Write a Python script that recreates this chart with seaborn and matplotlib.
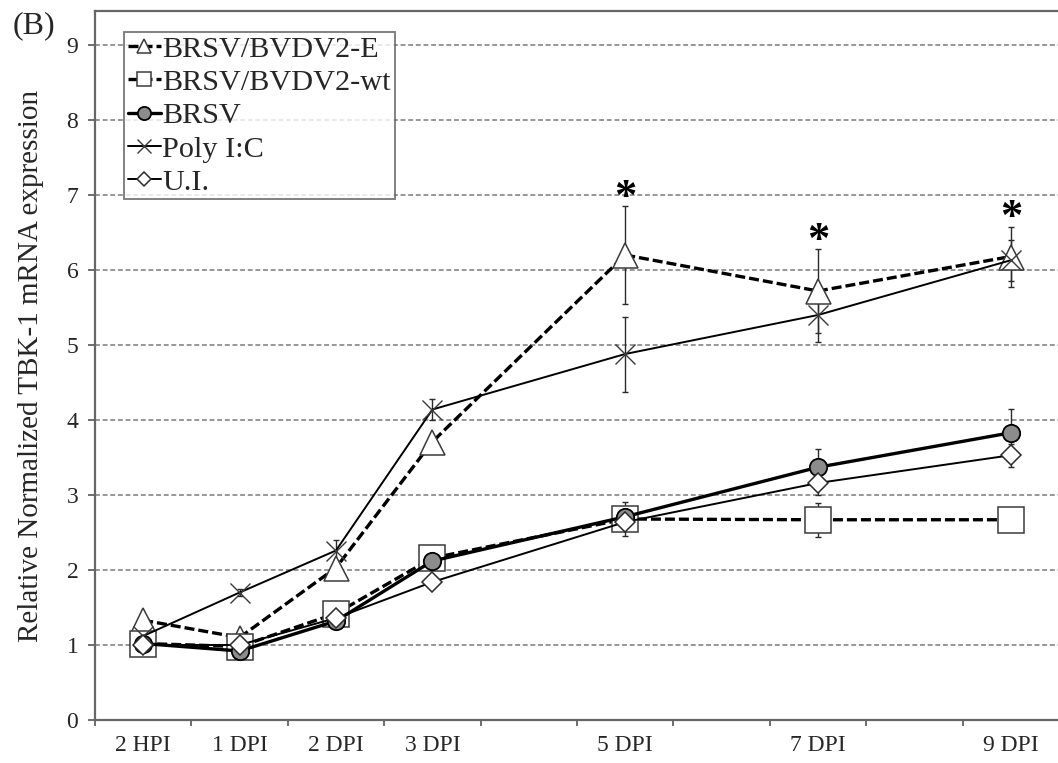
import numpy as np
import matplotlib
matplotlib.use("Agg")
import matplotlib.pyplot as plt
import seaborn as sns

# Sampling times and their slots on the category axis (4, 6 and 8 DPI are empty slots)
time_labels = ["2 HPI", "1 DPI", "2 DPI", "3 DPI", "5 DPI", "7 DPI", "9 DPI"]
time_slots = [0, 1, 2, 3, 5, 7, 9]

# Relative normalized TBK-1 mRNA expression (mean) and error bar half-widths
brsv_bvdv2_e = [1.33, 1.10, 2.03, 3.71, 6.20, 5.72, 6.18]
brsv_bvdv2_e_err = [0, 0, 0, 0, 0.65, 0.56, 0.40]
brsv_bvdv2_wt = [1.02, 0.98, 1.42, 2.16, 2.68, 2.67, 2.67]
brsv_bvdv2_wt_err = [0, 0, 0, 0, 0.23, 0.23, 0.03]
brsv = [1.02, 0.92, 1.32, 2.12, 2.71, 3.37, 3.83]
brsv_err = [0, 0, 0, 0, 0, 0.25, 0.32]
poly_ic = [1.12, 1.70, 2.26, 4.14, 4.88, 5.40, 6.13]
poly_ic_err = [0, 0.05, 0.14, 0.14, 0.50, 0.36, 0.27]
ui = [1.00, 1.00, 1.36, 1.84, 2.64, 3.16, 3.53]
ui_err = [0, 0, 0, 0, 0, 0.16, 0.15]

series_names = ["BRSV/BVDV2-E", "BRSV/BVDV2-wt", "BRSV", "Poly I:C", "U.I."]
series_values = [brsv_bvdv2_e, brsv_bvdv2_wt, brsv, poly_ic, ui]
series_errors = [brsv_bvdv2_e_err, brsv_bvdv2_wt_err, brsv_err, poly_ic_err, ui_err]

# Time points where BRSV/BVDV2-E differs significantly
significant_times = ["5 DPI", "7 DPI", "9 DPI"]

y_ticks = list(range(0, 10))

styles = [
    dict(linestyle=(0, (3, 1.2)), lw=2.4, marker="^", ms=18, mfc="white", mec="#3a3a3a", mew=1.1),
    dict(linestyle=(0, (3, 1.2)), lw=2.4, marker="s", ms=19, mfc="white", mec="#3a3a3a", mew=1.1),
    dict(linestyle="-", lw=2.4, marker="o", ms=12.5, mfc="#8c8c8c", mec="black", mew=1.3),
    dict(linestyle="-", lw=1.4, marker="x", ms=15, mfc="none", mec="#3a3a3a", mew=1.0),
    dict(linestyle="-", lw=1.4, marker="D", ms=10, mfc="white", mec="#2a2a2a", mew=1.1),
]
legend_ms = [10.5, 10.5, 9.5, 10.5, 7.5]

sns.set_theme(style="white")
plt.rcParams["font.family"] = ["Liberation Serif", "DejaVu Serif"]

fig = plt.figure(figsize=(10.58, 7.63), dpi=100)
ax = fig.add_axes([95 / 1058, 43 / 763, 964 / 1058, 709 / 763])

handles = []
for i, (name, vals, errs, st) in enumerate(zip(series_names, series_values, series_errors, styles)):
    xs = np.array(time_slots, dtype=float)
    v = np.array(vals)
    e = np.array(errs)
    m = e > 0
    ax.errorbar(xs[m], v[m], yerr=e[m], fmt="none", ecolor="#2a2a2a",
                elinewidth=1.0, capsize=2.2, capthick=1.0, zorder=2 + i * 0.1)
    sns.lineplot(x=xs, y=v, ax=ax, sort=False, errorbar=None, color="black",
                 linestyle=st["linestyle"], linewidth=st["lw"], marker=st["marker"],
                 markersize=st["ms"], markerfacecolor=st["mfc"], markeredgecolor=st["mec"],
                 markeredgewidth=st["mew"], label=name, zorder=3 + i, legend=False)
    handles.append(ax.lines[-1])

# Significance asterisks above the BRSV/BVDV2-E error bars
for t in significant_times:
    k = time_labels.index(t)
    top = brsv_bvdv2_e[k] + brsv_bvdv2_e_err[k]
    ax.annotate("*", xy=(time_slots[k], top), xytext=(0, -2), textcoords="offset points",
                ha="center", va="baseline", fontsize=32, fontweight="bold", color="black")

ax.set_xlim(-0.5, 9.5)
ax.set_ylim(0, 709 / 75)

# Category axis: tick marks between slots, labels centred in the slots
ax.set_xticks(np.arange(-0.5, 10.0, 1.0))
ax.set_xticklabels([])
ax.set_xticks(time_slots, minor=True)
ax.set_xticklabels(time_labels, minor=True, fontsize=17)
ax.tick_params(axis="x", which="major", direction="out", length=4.5, width=1.2,
               color="#555555", bottom=True)
ax.tick_params(axis="x", which="minor", length=0, pad=11)

ax.set_yticks(y_ticks)
ax.set_yticklabels([str(t) for t in y_ticks], fontsize=17)
ax.tick_params(axis="y", direction="out", length=5, width=1.2, color="#555555", left=True, pad=7)

ax.yaxis.grid(True, color="#7a7a7a", linestyle=(0, (3.2, 1.8)), linewidth=1.1)
ax.xaxis.grid(False)
ax.set_axisbelow(True)

for side in ["left", "bottom", "top", "right"]:
    ax.spines[side].set_color("#666666")
    ax.spines[side].set_linewidth(1.6)

ax.set_ylabel("Relative Normalized TBK-1 mRNA expression", fontsize=21, labelpad=16)
ax.set_xlabel("")

leg = ax.legend(handles, series_names, loc="upper left",
                bbox_to_anchor=((124 - 95) / 964, (720 - 32) / 709), borderaxespad=0,
                fontsize=21.8, frameon=True, fancybox=False, handlelength=1.1,
                handletextpad=0.05, labelspacing=0.2, borderpad=0.12, edgecolor="#555555")
leg.get_frame().set_linewidth(1.3)
for h, ms in zip(leg.legend_handles, legend_ms):
    h.set_markersize(ms)

fig.text(13 / 1058, 1 - 26 / 763, "(B)", fontsize=23, ha="left", va="center")

fig.savefig("out.png", dpi=100)
